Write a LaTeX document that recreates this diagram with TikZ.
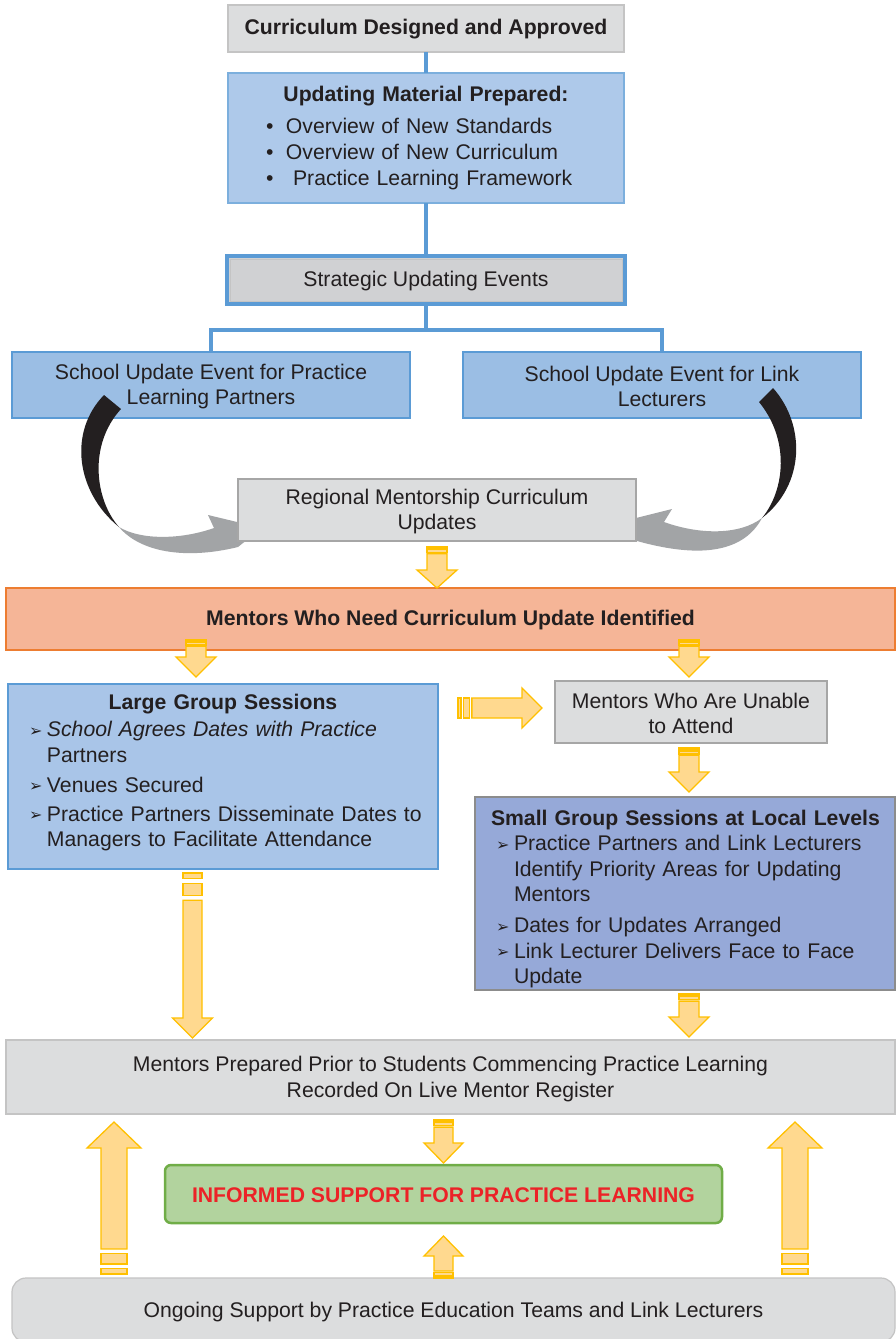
\documentclass[tikz,border=0pt]{standalone}
\usepackage{fontspec}
\setmainfont{Liberation Sans}
\newfontfamily\dejavu{DejaVu Sans}
\usetikzlibrary{calc}

\definecolor{ink}{HTML}{231F20}
\definecolor{linkblue}{HTML}{5B9BD5}
\definecolor{paleblue}{HTML}{AEC9EA}
\definecolor{midblue}{HTML}{9BBEE4}
\definecolor{lgblue}{HTML}{A9C5E8}
\definecolor{periwinkle}{HTML}{96A9D8}
\definecolor{boxgray}{HTML}{DCDDDE}
\definecolor{stratgray}{HTML}{D0D1D3}
\definecolor{edgegray}{HTML}{C4C4C4}
\definecolor{darkedge}{HTML}{A6A6A6}
\definecolor{slateedge}{HTML}{8C8C8C}
\definecolor{salmon}{HTML}{F5B597}
\definecolor{orangeedge}{HTML}{ED7D31}
\definecolor{mintgreen}{HTML}{B2D39E}
\definecolor{leafgreen}{HTML}{70AD47}
\definecolor{alertred}{HTML}{EC2227}
\definecolor{arrowfill}{HTML}{FFD98F}
\definecolor{arrowedge}{HTML}{FFC000}
\definecolor{ribbonblack}{HTML}{231F20}
\definecolor{ribbongray}{HTML}{A2A4A6}

\newcommand\bodyfont{\fontsize{21.2}{25.5}\selectfont}
% arrow-head bullet and continuation indent for the session lists
\newcommand\abul{\hspace*{21pt}\makebox[18pt][l]{\raisebox{0.5pt}{\dejavu\fontsize{16}{16}\selectfont ➢}}}
\newcommand\aind{\hspace*{39pt}}
\newcommand\dbul{\hspace*{38pt}\makebox[20pt][l]{•}}

\tikzset{
  box/.style={draw, rectangle, anchor=north west, inner sep=0pt, outer sep=0pt,
    align=center, text=ink, font=\bodyfont, line width=1.2pt},
  conn/.style={draw=linkblue, line width=4pt},
  yarrow/.style={fill=arrowfill, draw=arrowedge, line width=1.3pt, line join=miter},
  % striped block arrow along +x: length, shaft half width, head half width, head length
  pics/blockarrow/.style n args={4}{code={
    \pgfmathsetmacro\sa{0.035*#1}
    \pgfmathsetmacro\sb{0.065*#1}
    \pgfmathsetmacro\sc{0.135*#1}
    \pgfmathsetmacro\sd{0.165*#1}
    \pgfmathsetmacro\hb{#1-#4}
    \path[yarrow] (0,-#2) rectangle (\sa,#2);
    \path[yarrow] (\sb,-#2) rectangle (\sc,#2);
    \path[yarrow] (\sd,-#2) -- (\hb,-#2) -- (\hb,-#3) -- (#1,0)
      -- (\hb,#3) -- (\hb,#2) -- (\sd,#2) -- cycle;
  }}
}

\begin{document}
\begin{tikzpicture}[x=1pt,y=-1pt]
\useasboundingbox (0,0) rectangle (896,1339);
\fill[white] (0,0) rectangle (896,1339);

% --- planning chain -------------------------------------------------
\node[box, fill=boxgray, draw=edgegray, minimum width=396pt, minimum height=47pt]
  (top) at (228,5) {\rule{0pt}{17pt}\bfseries Curriculum Designed and Approved};

\node[box, fill=paleblue, draw=linkblue!80, minimum width=396pt, minimum height=130pt,
  text width=396pt, align=left, font=\fontsize{21.2}{26}\selectfont]
  (mat) at (228,73) {{\centering\bfseries Updating Material Prepared:\par}\vspace{6pt}
  \dbul Overview of New Standards\\
  \dbul Overview of New Curriculum\\
  \dbul\ Practice Learning Framework};

\node[box, fill=stratgray, draw=linkblue, line width=4.5pt, minimum width=398pt,
  minimum height=48pt] (strat) at (227,256) {\rule{0pt}{18pt}Strategic Updating Events};
\draw[edgegray, line width=0.8pt] ($(strat.north west)+(3,3)$) rectangle ($(strat.south east)+(-3,-3)$);

\draw[conn] (top) -- (mat);
\draw[conn] (mat) -- (strat);

\node[box, fill=midblue, draw=linkblue, minimum width=398pt, minimum height=66pt]
  (slp) at (12,352) {\rule{0pt}{18pt}School Update Event for Practice\\Learning Partners};
\node[box, fill=midblue, draw=linkblue, minimum width=398pt, minimum height=66pt]
  (sll) at (463,352) {\rule{0pt}{18pt}School Update Event for Link\\Lecturers};

\draw[conn] (strat.south) -- ++(0,26) coordinate (split);
\draw[conn] (slp.north) |- (split) -| (sll.north);

% --- curved ribbons feeding the regional updates ---------------------
\fill[ribbonblack] (104,395) .. controls (68,432) and (76,492) .. (119,527)
  .. controls (95,500) and (88,445) .. (121,409) -- cycle;
\fill[ribbongray] (119,527) .. controls (140,552) and (185,560) .. (238,547)
  -- (262,528) -- (208,515) -- (214,528)
  .. controls (180,540) and (140,540) .. (119,527) -- cycle;

\fill[ribbonblack] (773,388) .. controls (806,425) and (805,485) .. (762,518)
  .. controls (785,490) and (790,440) .. (759,402) -- cycle;
\fill[ribbongray] (762,518) .. controls (745,550) and (705,560) .. (637,541)
  -- (612,524) -- (672,509) -- (664,522)
  .. controls (700,535) and (740,535) .. (762,518) -- cycle;

\node[box, fill=boxgray, draw=darkedge, minimum width=398pt, minimum height=62pt]
  (reg) at (238,479) {\rule{0pt}{18pt}Regional Mentorship Curriculum\\Updates};

% --- identification and sessions ------------------------------------
\node[box, fill=salmon, draw=orangeedge, minimum width=889pt, minimum height=62pt]
  (need) at (6,588) {\rule{0pt}{18pt}\bfseries Mentors Who Need Curriculum Update Identified};

\node[box, fill=lgblue, draw=linkblue, line width=2pt, minimum width=430pt,
  minimum height=185pt, text width=430pt, align=left] (large) at (8,684)
  {{\centering\bfseries Large Group Sessions\par}\vspace{1.5pt}
  \abul\textit{School Agrees Dates with Practice}\\
  \aind Partners\\[4.5pt]
  \abul Venues Secured\\[3.5pt]
  \abul Practice Partners Disseminate Dates to\\
  \aind Managers to Facilitate Attendance\vspace{7pt}};

\node[box, fill=boxgray, draw=darkedge, minimum width=272pt, minimum height=62pt]
  (unable) at (555,681) {\rule{0pt}{18pt}Mentors Who Are Unable\\to Attend};

\node[box, fill=periwinkle, draw=slateedge, minimum width=420pt, minimum height=193pt,
  text width=420pt, align=left] (small) at (475,797)
  {\rule{0pt}{26pt}\hspace*{16pt}\textbf{Small Group Sessions at Local Levels}\\
  \abul Practice Partners and Link Lecturers\\
  \aind Identify Priority Areas for Updating\\
  \aind Mentors\\[5.5pt]
  \abul Dates for Updates Arranged\\
  \abul Link Lecturer Delivers Face to Face\\
  \aind Update};

% --- outcome ---------------------------------------------------------
\node[box, fill=boxgray, draw=edgegray, minimum width=889pt, minimum height=74pt]
  (prep) at (6,1040) {\rule{0pt}{19pt}Mentors Prepared Prior to Students Commencing Practice Learning\\
  Recorded On Live Mentor Register};

\node[box, fill=mintgreen, draw=leafgreen, line width=2.5pt, rounded corners=6pt,
  minimum width=557pt, minimum height=58pt, text=alertred]
  (informed) at (165,1165) {\rule{0pt}{18pt}\bfseries INFORMED SUPPORT FOR PRACTICE LEARNING};

\node[box, fill=boxgray, draw=edgegray, rounded corners=14pt, minimum width=883pt,
  minimum height=64pt] (ongoing) at (12,1278)
  {\rule{0pt}{19pt}Ongoing Support by Practice Education Teams and Link Lecturers};

% --- striped block arrows --------------------------------------------
\pic[rotate=-90] at (437,547) {blockarrow={41}{10}{20}{18}};
\pic[rotate=-90] at (196,640) {blockarrow={37}{10}{20}{20}};
\pic[rotate=-90] at (689,640) {blockarrow={37}{10}{20}{20}};
\pic at (458,708) {blockarrow={84}{10}{20}{20}};
\pic[rotate=-90] at (689,748) {blockarrow={44}{10}{20}{20}};
\pic[rotate=-90] at (192.5,873) {blockarrow={165}{9.5}{20}{20}};
\pic[rotate=-90] at (689,994) {blockarrow={43}{10}{20}{20}};
\pic[rotate=-90] at (443.5,1120) {blockarrow={43}{9.5}{19.5}{20}};
\pic[rotate=90] at (443.5,1278) {blockarrow={42}{9.5}{19.5}{20}};
\pic[rotate=90] at (114,1274) {blockarrow={152}{13}{27}{26}};
\pic[rotate=90] at (795,1274) {blockarrow={152}{13}{27}{26}};
\end{tikzpicture}
\end{document}
